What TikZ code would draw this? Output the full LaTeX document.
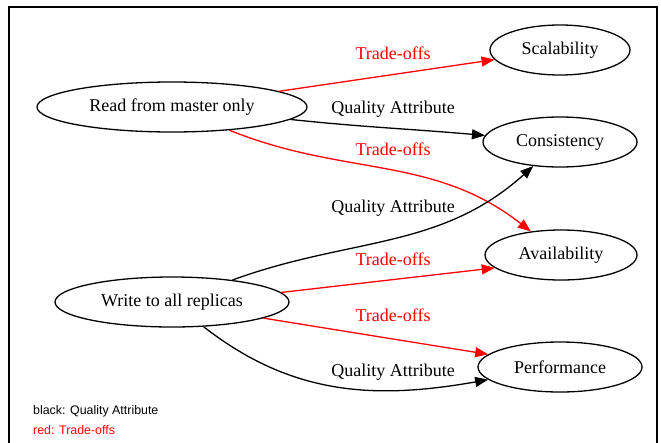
\documentclass[tikz,border=0pt]{standalone}
\usepackage{fontspec}
\setmainfont{Liberation Serif}
\newfontfamily\legendfont{Liberation Sans}
\usetikzlibrary{arrows.meta,shapes.geometric}
\begin{document}
\begin{tikzpicture}[x=1pt,y=-1pt,
        choice/.style={ellipse,draw,line width=1.3pt,inner sep=0pt,font=\fontsize{18}{20}\selectfont},
        attr/.style={choice},
        lbl/.style={font=\fontsize{18}{20}\selectfont,inner sep=0pt},
        qa/.style={draw=black,line width=1.3pt,-{Triangle[length=13pt,width=10pt]}},
        tradeoff/.style={draw=red,line width=1.3pt,-{Triangle[length=13pt,width=10pt]},red},
        legend/.style={font=\legendfont\fontsize{12.4}{14}\selectfont,anchor=west,inner sep=0pt}]
    \useasboundingbox (0,0) rectangle (661,442);
    \draw[line width=2.5pt] (9,443) -- (9,7) -- (657,7) -- (657,443);
    % decisions
    \node[choice,minimum width=270pt,minimum height=50pt] (read) at (172,107) {Read from master only};
    \node[choice,minimum width=234pt,minimum height=50pt] (write) at (172,302) {Write to all replicas};
    % attributes
    \node[attr,minimum width=140pt,minimum height=50pt] (scal) at (560,50) {Scalability};
    \node[attr,minimum width=154pt,minimum height=50pt] (cons) at (560,142) {Consistency};
    \node[attr,minimum width=152pt,minimum height=50pt] (avail) at (561,255) {Availability};
    \node[attr,minimum width=164pt,minimum height=50pt] (perf) at (560,367) {Performance};
    % edges
    \draw[tradeoff] (read) -- (scal);
    \draw[qa] (read) to[out=-6,in=175] (cons);
    \draw[tradeoff] (read) to[out=-22,in=142] (avail);
    \draw[qa] (write) to[out=20,in=222] (cons);
    \draw[tradeoff] (write.5) -- (avail.191);
    \draw[tradeoff] (write.-10) -- (perf.170);
    \draw[qa] (write) to[out=-38,in=190] (perf);
    % edge labels
    \node[lbl,red] (t1) at (393,53) {Trade-offs};
    \node[lbl] (q1) at (393,109) {Quality Attribute};
    \node[lbl,red] (t2) at (393,149) {Trade-offs};
    \node[lbl] (q2) at (393,208) {Quality Attribute};
    \node[lbl,red] (t3) at (393,259) {Trade-offs};
    \node[lbl,red] (t4) at (393,315) {Trade-offs};
    \node[lbl] (q3) at (393,372) {Quality Attribute};
    % legend
    \node[legend] (key1) at (33,411) {black: Quality Attribute};
    \node[legend,red] (key2) at (33,430) {red: Trade-offs};
\end{tikzpicture}
\end{document}
